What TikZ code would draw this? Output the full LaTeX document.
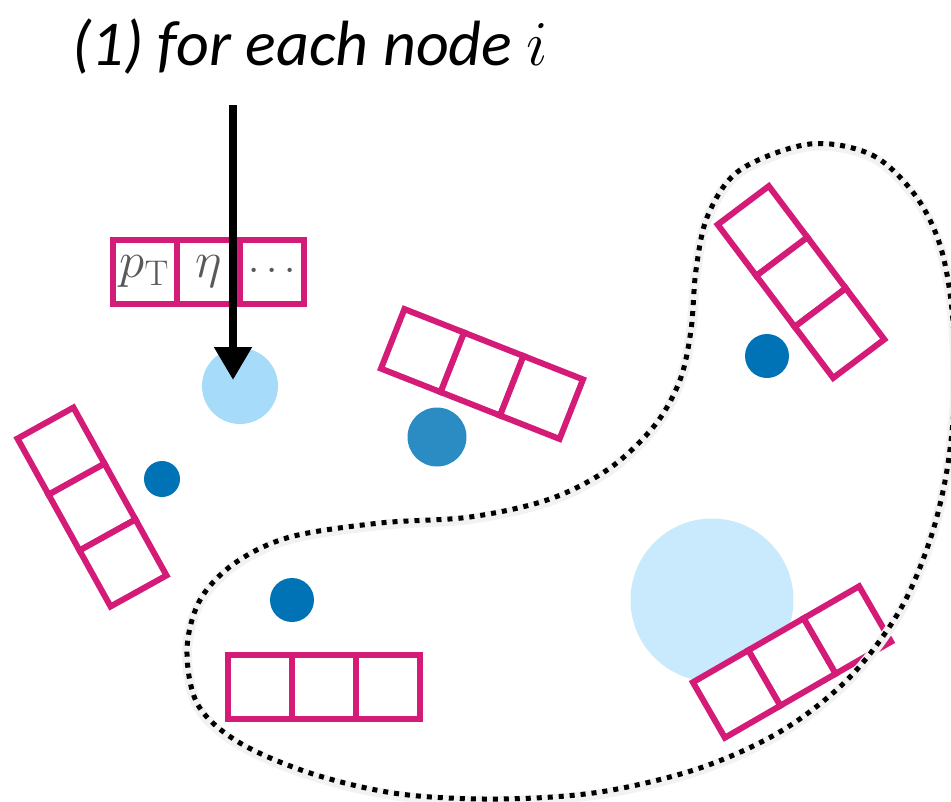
\documentclass[tikz,border=0pt]{standalone}
\usepackage{fix-cm}
\usepackage[no-math]{fontspec}
\setmainfont{Carlito}
\usetikzlibrary{arrows.meta}
\definecolor{boxmag}{HTML}{D31B77}
\definecolor{nodeself}{HTML}{A6DCF9}
\definecolor{nodebig}{HTML}{C8EAFC}
\definecolor{nodemid}{HTML}{2B8CC4}
\definecolor{nodedark}{HTML}{0073B7}

\begin{document}
\begin{tikzpicture}
[
x=0.02cm,y=-0.02cm,
cell/.style={draw=boxmag,line width=0.12cm,fill=white,minimum size=1.28cm,inner sep=0pt,outer sep=0pt,rotate=#1},
cell/.default=0,
blob/.style 2 args={circle,fill=#1,minimum size=#2,inner sep=0pt,outer sep=0pt},
feat/.style={text=black!65,font=\fontsize{29}{29}\selectfont},
hull/.style={line width=0.1cm,dash pattern=on 0.1cm off 0.12cm,
            preaction={draw=black!5,solid,line width=0.2cm,transform canvas={yshift=-0.04cm}}},
pickarrow/.style={line width=0.16cm,-{Triangle[length=0.66cm,width=0.72cm]}},
]
\useasboundingbox (0,0) rectangle (951,802);

%Place the particles
\node[blob={nodeself}{1.52cm}] (ci) at (240,386) {};
\node[blob={nodedark}{0.72cm}] (c1) at (162,479) {};
\node[blob={nodemid}{1.18cm}] (c2) at (437,437) {};
\node[blob={nodedark}{0.88cm}] (c3) at (767,356) {};
\node[blob={nodedark}{0.88cm}] (c4) at (292,600) {};
\node[blob={nodebig}{3.26cm}] (c5) at (712,600) {};

%Feature vector of node i
\node[cell,feat] (f2) at (208.5,271.5) {$\eta$};
\node[cell,feat,anchor=east] (f1) at (f2.west) {$p_\mathrm{T}$};
\node[cell,feat,anchor=west,font=\fontsize{23}{23}\selectfont] (f3) at (f2.east) {$\cdots$};

%Feature vectors of the other nodes
\node[cell=-61] (a2) at (92,507) {};
\node[cell=-61,anchor=east] (a1) at (a2.west) {};
\node[cell=-61,anchor=west] (a3) at (a2.east) {};
\node[cell=-21.5] (b2) at (482,374) {};
\node[cell=-21.5,anchor=east] (b1) at (b2.west) {};
\node[cell=-21.5,anchor=west] (b3) at (b2.east) {};
\node[cell=-53] (d2) at (801,282) {};
\node[cell=-53,anchor=east] (d1) at (d2.west) {};
\node[cell=-53,anchor=west] (d3) at (d2.east) {};
\node[cell=30] (e2) at (792,662) {};
\node[cell=30,anchor=east] (e1) at (e2.west) {};
\node[cell=30,anchor=west] (e3) at (e2.east) {};
\node[cell] (g2) at (324,686.5) {};
\node[cell,anchor=east] (g1) at (g2.west) {};
\node[cell,anchor=west] (g3) at (g2.east) {};

%Neighbourhood
\draw[hull] plot[smooth cycle,tension=0.55] coordinates {
  (810,144) (872,155) (915,195) (940,245) (952,310) (955,390) (947,470) (930,540)
  (900,610) (850,677) (783,730) (700,768) (600,792) (500,799) (400,794) (313,774)
  (240,743) (198,705) (187,650) (200,600) (235,563) (290,537) (380,523) (470,517)
  (550,499) (610,468) (655,425) (680,380) (691,330) (696,270) (708,215) (740,170)};

%Title and arrow
\node[anchor=base west,font=\fontsize{36.4}{36.4}\selectfont\itshape] (title) at (66,65) {(1) for each node $i$};
\coordinate (astart) at (233,105);
\coordinate (atip) at (233,380);
\draw[pickarrow] (astart) -- (atip);
\end{tikzpicture}
\end{document}
